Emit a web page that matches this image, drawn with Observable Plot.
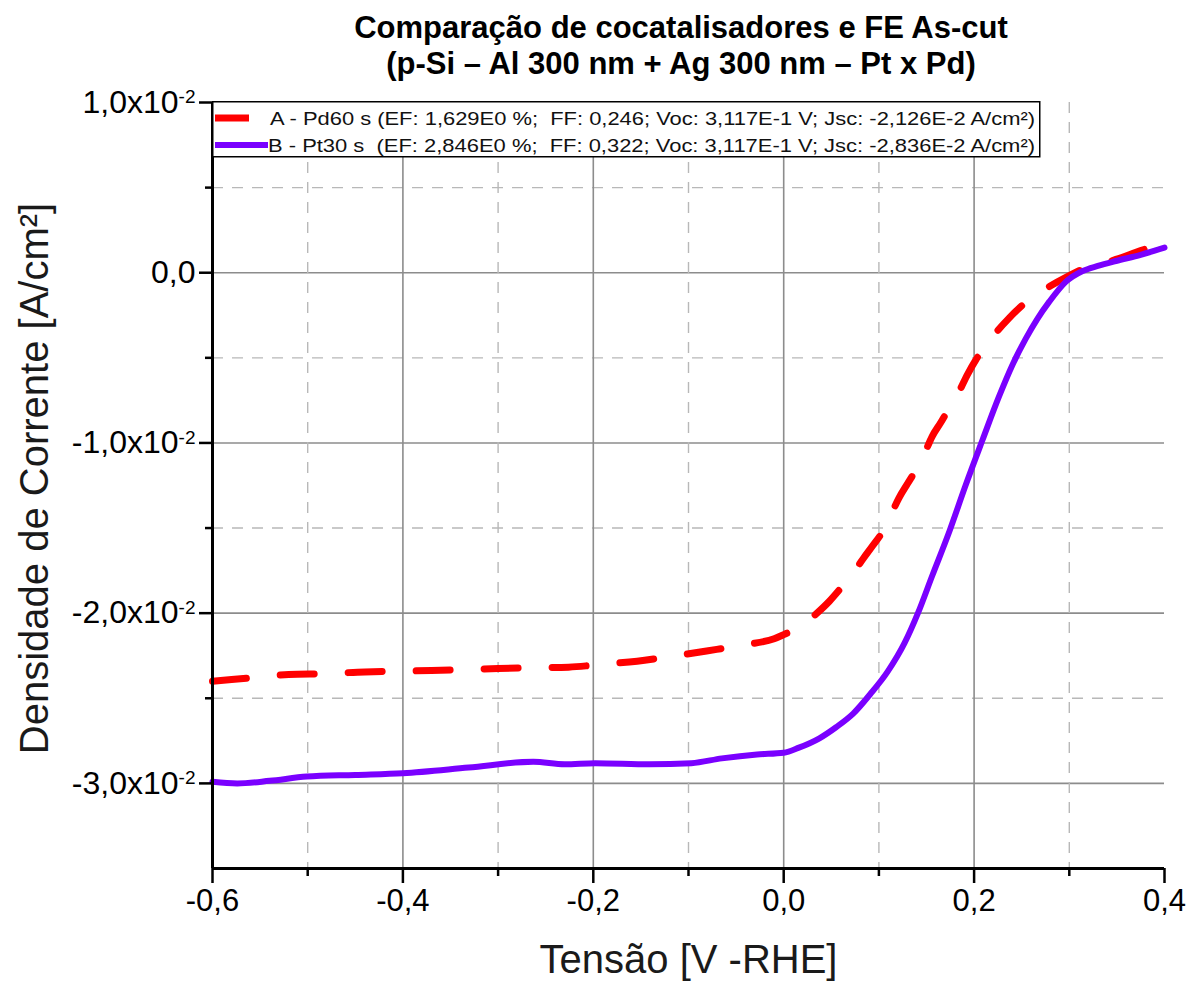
<!DOCTYPE html>
<html>
<head>
<meta charset="utf-8">
<script src="https://cdn.jsdelivr.net/npm/d3@7"></script>
<script src="https://cdn.jsdelivr.net/npm/@observablehq/plot@0.6"></script>
<style>
  body { margin: 0; background: #fff; font-family: "Liberation Sans", Arial, sans-serif; }
  #wrap { position: relative; width: 1196px; height: 987px; overflow: hidden; }
  #title {
    position: absolute; left: 166px; top: 10px; width: 1030px;
    text-align: center; font-weight: bold; font-size: 31px; line-height: 36px; color: #000;
  }
  #chart { position: absolute; left: 0; top: 0; }
  #legend { position: absolute; left: 212px; top: 101px; }
</style>
</head>
<body>
<div id="wrap">
  <div id="chart"></div>
  <div id="title">Comparação de cocatalisadores e FE As-cut<br>(p-Si – Al 300 nm + Ag 300 nm – Pt x Pd)</div>
  <div id="legend"></div>
</div>
<script>
// Potential (V vs RHE) and current density (A/cm²) for each cocatalyst
const voltA = [-0.600, -0.560, -0.520, -0.480, -0.440, -0.400, -0.370, -0.330, -0.300, -0.260,
  -0.226, -0.190, -0.154, -0.120, -0.081, -0.040, -0.010, 0.000, 0.020, 0.035,
  0.048, 0.060, 0.072, 0.084, 0.094, 0.104, 0.112, 0.121, 0.130, 0.139,
  0.148, 0.156, 0.165, 0.174, 0.184, 0.193, 0.202, 0.212, 0.224, 0.237,
  0.250, 0.263, 0.280, 0.296, 0.314, 0.330, 0.349, 0.370, 0.385, 0.400];
const currA = [-2.40e-2, -2.38e-2, -2.36e-2, -2.355e-2, -2.345e-2, -2.34e-2, -2.337e-2, -2.33e-2, -2.325e-2, -2.32e-2,
  -2.317e-2, -2.30e-2, -2.282e-2, -2.255e-2, -2.222e-2, -2.185e-2, -2.15e-2, -2.126e-2, -2.07e-2, -2.00e-2,
  -1.93e-2, -1.853e-2, -1.77e-2, -1.676e-2, -1.60e-2, -1.52e-2, -1.43e-2, -1.324e-2, -1.24e-2, -1.157e-2,
  -1.06e-2, -0.961e-2, -0.88e-2, -0.794e-2, -0.70e-2, -0.598e-2, -0.51e-2, -0.431e-2, -0.345e-2, -0.265e-2,
  -0.195e-2, -0.137e-2, -0.078e-2, -0.029e-2, 0.020e-2, 0.045e-2, 0.078e-2, 0.12e-2, 0.15e-2, 0.186e-2];

const voltB = [-0.600, -0.574, -0.540, -0.501, -0.450, -0.400, -0.331, -0.263, -0.230, -0.198,
  -0.141, -0.097, -0.065, -0.028, 0.000, 0.016, 0.0375, 0.055, 0.073, 0.091,
  0.109, 0.127, 0.141, 0.156, 0.174, 0.191, 0.209, 0.226, 0.240, 0.254,
  0.266, 0.279, 0.296, 0.314, 0.330, 0.349, 0.375, 0.400];
const currB = [-2.99e-2, -3.00e-2, -2.985e-2, -2.96e-2, -2.95e-2, -2.94e-2, -2.907e-2, -2.873e-2, -2.887e-2, -2.881e-2,
  -2.887e-2, -2.881e-2, -2.853e-2, -2.83e-2, -2.82e-2, -2.79e-2, -2.735e-2, -2.67e-2, -2.59e-2, -2.475e-2,
  -2.345e-2, -2.175e-2, -2.00e-2, -1.78e-2, -1.52e-2, -1.25e-2, -0.98e-2, -0.73e-2, -0.545e-2, -0.39e-2,
  -0.275e-2, -0.17e-2, -0.055e-2, 0.010e-2, 0.04e-2, 0.069e-2, 0.105e-2, 0.147e-2];

const seriesNames = ["A - Pd60 s", "B - Pt30 s"];
const seriesInfo = [
  "(EF: 1,629E0 %;  FF: 0,246; Voc: 3,117E-1 V; Jsc: -2,126E-2 A/cm²)",
  "(EF: 2,846E0 %;  FF: 0,322; Voc: 3,117E-1 V; Jsc: -2,836E-2 A/cm²)"
];
const seriesColors = ["#ff0000", "#7a00ff"];

// Axis ticks
const xMajor = [-0.6, -0.4, -0.2, 0.0, 0.2, 0.4];
const xMinor = [-0.5, -0.3, -0.1, 0.1, 0.3];
const yMajor = [0.01, 0.0, -0.01, -0.02, -0.03];
const yMinor = [0.005, -0.005, -0.015, -0.025];
const xDomain = [-0.6, 0.4];
const yDomain = [-0.035, 0.01];

const xLabel = "Tensão [V -RHE]";
const yLabel = "Densidade de Corrente [A/cm²]";

const dataA = voltA.map((v, i) => ({v, j: currA[i]}));
const dataB = voltB.map((v, i) => ({v, j: currB[i]}));

const styles = [
  {strokeWidth: 7, dash: "34,34"},
  {strokeWidth: 6, dash: null}
];

const fmtX = d => d.toFixed(1).replace("-0.0", "0.0").replace(".", ",");
const fmtY = d => Math.abs(d) < 1e-12 ? "0,0" : (d * 100).toFixed(1).replace(".", ",") + "x10";

const gridMajor = {stroke: "#8c8c8c", strokeOpacity: 1, strokeWidth: 1.6};
const gridMinor = {stroke: "#b8b8b8", strokeOpacity: 1, strokeWidth: 1.4, strokeDasharray: "11,9"};

const plot = Plot.plot({
  width: 1196,
  height: 987,
  marginTop: 102,
  marginLeft: 212,
  marginRight: 32,
  marginBottom: 119,
  style: {fontFamily: "'Liberation Sans', Arial, sans-serif", color: "#000", background: "transparent"},
  x: {domain: xDomain},
  y: {domain: yDomain},
  marks: [
    Plot.gridY({ticks: [0.0, -0.01, -0.02, -0.03], ...gridMajor}),
    Plot.gridY({ticks: yMinor, ...gridMinor}),
    Plot.gridX({ticks: [-0.4, -0.2, 0.0, 0.2], ...gridMajor}),
    Plot.gridX({ticks: xMinor, ...gridMinor}),
    Plot.line(dataA, {x: "v", y: "j", stroke: seriesColors[0], strokeWidth: styles[0].strokeWidth,
      strokeDasharray: styles[0].dash, curve: "monotone-x"}),
    Plot.line(dataB, {x: "v", y: "j", stroke: seriesColors[1], strokeWidth: styles[1].strokeWidth,
      curve: "monotone-x"}),
    Plot.axisY({ticks: yMajor, tickSize: 13, tickPadding: 4, fontSize: 32, strokeWidth: 2.5,
      tickFormat: fmtY, label: null}),
    Plot.axisY({ticks: yMinor, tickSize: 7, strokeWidth: 2.5, tickFormat: () => "", label: null}),
    Plot.axisX({ticks: xMajor, tickSize: 15, tickPadding: 5, fontSize: 31, strokeWidth: 2.5,
      tickFormat: fmtX, label: null}),
    Plot.axisX({ticks: xMinor, tickSize: 8, strokeWidth: 2.5, tickFormat: () => "", label: null}),
    Plot.ruleX([xDomain[0]], {stroke: "#000", strokeWidth: 3}),
    Plot.ruleY([yDomain[0]], {stroke: "#000", strokeWidth: 3}),
    Plot.text([xLabel], {frameAnchor: "bottom", dy: 104, fontSize: 40, fill: "#1a1a1a"}),
    Plot.text([yLabel], {frameAnchor: "left", dx: -177, dy: -7, rotate: -90, textAnchor: "middle",
      lineAnchor: "middle", fontSize: 40, fill: "#1a1a1a"})
  ]
});
document.getElementById("chart").appendChild(plot);

// Exponent superscripts on the y tick labels
d3.select(plot).selectAll('g[aria-label="y-axis tick label"] text').each(function() {
  const t = d3.select(this);
  if (t.text().endsWith("x10")) {
    t.append("tspan").attr("dy", "-0.5em").attr("font-size", 19).text("-2");
  }
});

// Legend box drawn inside the top-left corner of the plot area
const lg = d3.select("#legend").append("svg")
  .attr("width", 830).attr("height", 58)
  .style("font-family", "'Liberation Sans', Arial, sans-serif");
lg.append("rect").attr("x", 0.75).attr("y", 0.75).attr("width", 827).attr("height", 55)
  .attr("fill", "#fff").attr("stroke", "#000").attr("stroke-width", 1.5);
seriesNames.forEach((name, i) => {
  const cy = 17 + i * 27;
  const x0 = i === 0 ? 58 : 56;
  lg.append("line").attr("x1", 3).attr("x2", 56).attr("y1", cy).attr("y2", cy)
    .attr("stroke", seriesColors[i]).attr("stroke-width", styles[i].strokeWidth)
    .attr("stroke-dasharray", styles[i].dash);
  lg.append("text").attr("x", x0).attr("y", cy).attr("dy", "0.36em")
    .attr("font-size", 19).attr("fill", "#111").attr("xml:space", "preserve")
    .attr("textLength", 823 - x0).attr("lengthAdjust", "spacingAndGlyphs")
    .text(name + (i === 0 ? " " : "  ") + seriesInfo[i]);
});
</script>
</body>
</html>
